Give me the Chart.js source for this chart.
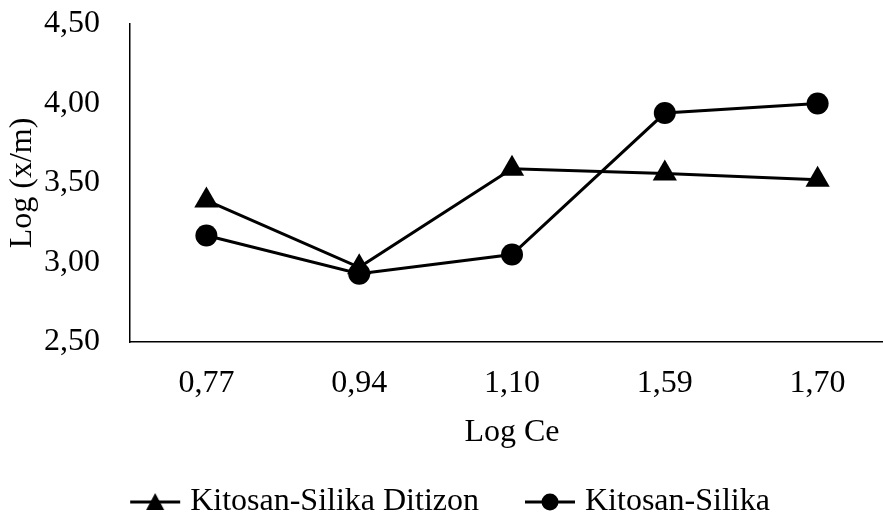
<!DOCTYPE html>
<html>
<head>
<meta charset="utf-8">
<script src="https://cdn.jsdelivr.net/npm/chart.js@4.4.1/dist/chart.umd.min.js"></script>
<style>
  html, body { margin: 0; padding: 0; background: #fff; overflow: hidden; }
  #grafik { position: absolute; left: 0; top: 0; }
</style>
</head>
<body>
<canvas id="grafik" width="896" height="517"></canvas>
<script>
// Data isoterm Freundlich
const logCe = ['0,77', '0,94', '1,10', '1,59', '1,70'];
const ksDitizon = [3.39, 2.97, 3.59, 3.56, 3.52];
const ksSilika = [3.17, 2.93, 3.05, 3.94, 4.00];
const yTicks = [2.5, 3.0, 3.5, 4.0, 4.5];

const FONT = "'Liberation Serif', 'Times New Roman', serif";
const SIZE = 32;

// ikon legenda: garis dengan penanda di tengah
function legendIcon(style) {
    const c = document.createElement('canvas');
    c.width = 60; c.height = 24;
    const g = c.getContext('2d');
    g.strokeStyle = '#000';
    g.lineWidth = 3;
    g.beginPath(); g.moveTo(7, 12); g.lineTo(57, 12); g.stroke();
    g.fillStyle = '#000';
    g.beginPath();
    if (style === 'triangle') {
        g.moveTo(32, 3); g.lineTo(41, 20); g.lineTo(23, 20); g.closePath();
    } else {
        g.arc(32, 12, 8.5, 0, Math.PI * 2);
    }
    g.fill();
    return c;
}

const ctx = document.getElementById('grafik').getContext('2d');
const grafik = new Chart(ctx, {
    type: 'line',
    data: {
        labels: logCe,
        datasets: [{
            label: 'Kitosan-Silika Ditizon',
            data: ksDitizon,
            borderColor: '#000',
            backgroundColor: '#000',
            borderWidth: 3,
            pointStyle: 'triangle',
            pointRadius: 14,
            pointBorderWidth: 0,
            legendIcon: legendIcon('triangle'),
            tension: 0
        }, {
            label: 'Kitosan-Silika',
            data: ksSilika,
            borderColor: '#000',
            backgroundColor: '#000',
            borderWidth: 3,
            pointStyle: 'circle',
            pointRadius: 11,
            pointBorderWidth: 0,
            legendIcon: legendIcon('circle'),
            tension: 0
        }]
    },
    options: {
        responsive: false,
        animation: false,
        layout: { autoPadding: false, padding: { left: 8, right: 2, top: 24, bottom: -11 } },
        scales: {
            x: {
                offset: true,
                grid: { display: false, drawTicks: false },
                border: { display: true, color: '#000', width: 1.5 },
                ticks: { color: '#000', font: { family: FONT, size: SIZE }, padding: 22 },
                title: {
                    display: true, text: 'Log Ce', color: '#000',
                    font: { family: FONT, size: SIZE }, padding: { top: 0, bottom: -14 }
                },
                afterFit: s => { s.height = 96; s.paddingLeft = 0; s.paddingRight = 0; }
            },
            y: {
                min: 2.5, max: 4.5,
                afterBuildTicks: s => { s.ticks = yTicks.map(v => ({ value: v })); },
                grid: { display: false, drawTicks: false },
                border: { display: true, color: '#000', width: 1.5 },
                ticks: {
                    color: '#000', font: { family: FONT, size: SIZE }, padding: 30,
                    callback: v => v.toFixed(2).replace('.', ',')
                },
                title: {
                    display: true, text: 'Log (x/m)', color: '#000',
                    font: { family: FONT, size: SIZE }, padding: { top: -5, bottom: 0 }
                },
                afterFit: s => { s.width = 122; s.paddingTop = 0; s.paddingBottom = 0; }
            }
        },
        plugins: {
            tooltip: { enabled: false },
            legend: {
                position: 'bottom',
                labels: {
                    color: '#000',
                    font: { family: FONT, size: SIZE },
                    usePointStyle: true,
                    pointStyleWidth: 42,
                    padding: 48,
                    generateLabels: chart => chart.data.datasets.map((ds, i) => ({
                        text: ds.label,
                        pointStyle: ds.legendIcon,
                        fillStyle: '#000',
                        strokeStyle: '#000',
                        lineWidth: 0,
                        datasetIndex: i
                    }))
                }
            }
        }
    }
});
</script>
</body>
</html>
